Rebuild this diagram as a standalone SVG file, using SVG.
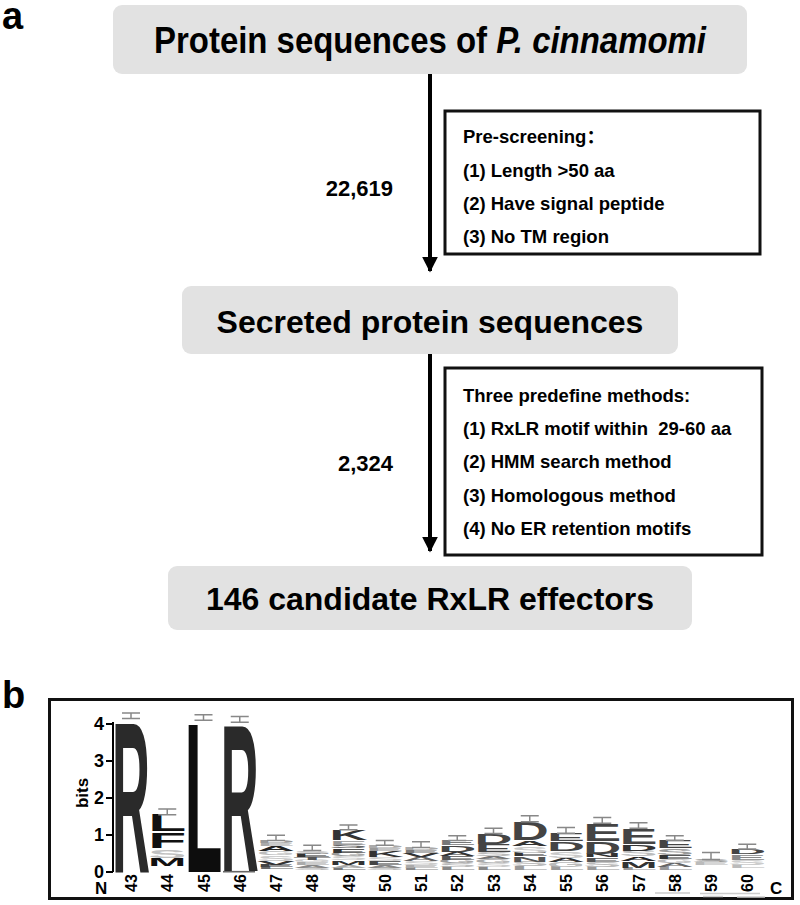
<svg xmlns="http://www.w3.org/2000/svg" width="800" height="905" viewBox="0 0 800 905">
<style>
text{font-family:"Liberation Sans",Arial,"Noto Sans CJK SC",sans-serif;font-weight:bold}
.panel{font-size:38px}
.node{fill:#e2e2e2;stroke:none}
.title{font-size:32px;text-anchor:middle}
.crit{fill:#fff;stroke:#111;stroke-width:3}
.ct{font-size:18.5px;white-space:pre}
.num{font-size:22px;text-anchor:end}
.conn{stroke:#000;stroke-width:4;fill:none}
.lg{font-size:20px}
.err{stroke:#888;stroke-width:1.5;fill:none}
.tick{font-size:18px;text-anchor:end}
.pos{font-size:16px}
.ax{stroke:#000;stroke-width:2;fill:none}
</style>
<defs>
<marker id="ah" markerWidth="4" markerHeight="4" refX="3.6" refY="2" orient="auto" markerUnits="strokeWidth" viewBox="0 0 4 4">
<path d="M0,0 L4,2 L0,4 Z" fill="#000"/>
</marker>
</defs>
<rect width="800" height="905" fill="#fff"/>

<text class="panel" x="2" y="29">a</text>
<text class="panel" x="2" y="708">b</text>

<g id="connectors">
<line class="conn" x1="430" y1="74" x2="430" y2="271" marker-end="url(#ah)"/>
<line class="conn" x1="430" y1="354" x2="430" y2="551" marker-end="url(#ah)"/>
<text class="num" x="393" y="196">22,619</text>
<text class="num" x="393" y="471">2,324</text>
</g>

<g id="node-proteins">
<rect class="node" x="113" y="5" width="634" height="69" rx="9"/>
<text font-size="37" text-anchor="middle" transform="translate(430,53) scale(0.89,1)">Protein sequences of <tspan font-style="italic">P. cinnamomi</tspan></text>
</g>

<g id="node-prescreening">
<rect class="crit" x="445" y="111" width="315" height="143"/>
<text class="ct" x="463" y="143">Pre-screening：</text>
<text class="ct" x="463" y="177">(1) Length &gt;50 aa</text>
<text class="ct" x="463" y="210">(2) Have signal peptide</text>
<text class="ct" x="463" y="243">(3) No TM region</text>
</g>

<g id="node-secreted">
<rect class="node" x="182" y="286" width="496" height="68" rx="9"/>
<text class="title" x="430" y="333">Secreted protein sequences</text>
</g>

<g id="node-methods">
<rect class="crit" x="445" y="368" width="317" height="187"/>
<text class="ct" x="463" y="402">Three predefine methods:</text>
<text class="ct" x="463" y="435">(1) RxLR motif within  29-60 aa</text>
<text class="ct" x="463" y="468">(2) HMM search method</text>
<text class="ct" x="463" y="502">(3) Homologous method</text>
<text class="ct" x="463" y="535">(4) No ER retention motifs</text>
</g>

<g id="node-candidates">
<rect class="node" x="168" y="566" width="524" height="64" rx="9"/>
<text class="title" x="430" y="610">146 candidate RxLR effectors</text>
</g>

<g id="logo">
<rect x="49.5" y="699.5" width="743" height="199" fill="none" stroke="#111" stroke-width="3"/>
<path class="ax" d="M113,722 V872 M106,872 H113 M106,835 H113 M106,798 H113 M106,761 H113 M106,724 H113"/>
<text class="tick" x="104" y="878">0</text>
<text class="tick" x="104" y="841">1</text>
<text class="tick" x="104" y="804">2</text>
<text class="tick" x="104" y="767">3</text>
<text class="tick" x="104" y="730">4</text>
<text font-size="17" text-anchor="middle" transform="translate(88,793) rotate(-90)">bits</text>
<text font-size="17" x="95" y="894">N</text>
<text font-size="17" x="770" y="894">C</text>

<g class="lg">
<text transform="translate(112,872) scale(1,10.775)" textLength="38" lengthAdjust="spacingAndGlyphs" fill="#2a2a2a">R</text>

<text transform="translate(148.25,866.45) scale(1,0.517)" textLength="38" lengthAdjust="spacingAndGlyphs" fill="#111">M</text>
<text transform="translate(148.25,858.31) scale(1,0.568)" textLength="38" lengthAdjust="spacingAndGlyphs" fill="#c0c0c0">S</text>
<text transform="translate(148.25,847.95) scale(1,1.085)" textLength="38" lengthAdjust="spacingAndGlyphs" fill="#111">F</text>
<text transform="translate(148.25,831.3) scale(1,1.163)" textLength="38" lengthAdjust="spacingAndGlyphs" fill="#111">L</text>

<text transform="translate(184.5,872) scale(1,10.671)" textLength="38" lengthAdjust="spacingAndGlyphs" fill="#0d0d0d">L</text>

<rect x="223" y="870.9" width="32" height="1.6" fill="#666"/>
<text transform="translate(220.75,870.89) scale(1,10.464)" textLength="38" lengthAdjust="spacingAndGlyphs" fill="#2a2a2a">R</text>

<text transform="translate(257,869.04) scale(1,0.155)" textLength="38" lengthAdjust="spacingAndGlyphs" fill="#666">L</text>
<text transform="translate(257,866.82) scale(1,0.155)" textLength="38" lengthAdjust="spacingAndGlyphs" fill="#444">E</text>
<text transform="translate(257,864.6) scale(1,0.258)" textLength="38" lengthAdjust="spacingAndGlyphs" fill="#333">V</text>
<text transform="translate(257,860.9) scale(1,0.388)" textLength="38" lengthAdjust="spacingAndGlyphs" fill="#c8c8c8">S</text>
<text transform="translate(257,855.35) scale(1,0.284)" textLength="38" lengthAdjust="spacingAndGlyphs" fill="#bdbdbd">G</text>
<text transform="translate(257,851.28) scale(1,0.362)" textLength="38" lengthAdjust="spacingAndGlyphs" fill="#222">A</text>
<text transform="translate(257,846.1) scale(1,0.207)" textLength="38" lengthAdjust="spacingAndGlyphs" fill="#aaa">E</text>
<text transform="translate(257,843.14) scale(1,0.181)" textLength="38" lengthAdjust="spacingAndGlyphs" fill="#999">D</text>

<text transform="translate(293.25,870.15) scale(1,0.181)" textLength="38" lengthAdjust="spacingAndGlyphs" fill="#bbb">S</text>
<text transform="translate(293.25,867.56) scale(1,0.155)" textLength="38" lengthAdjust="spacingAndGlyphs" fill="#888">A</text>
<text transform="translate(293.25,865.34) scale(1,0.207)" textLength="38" lengthAdjust="spacingAndGlyphs" fill="#aaa">E</text>
<text transform="translate(293.25,862.38) scale(1,0.181)" textLength="38" lengthAdjust="spacingAndGlyphs" fill="#ccc">G</text>
<text transform="translate(293.25,859.79) scale(1,0.207)" textLength="38" lengthAdjust="spacingAndGlyphs" fill="#555">T</text>
<text transform="translate(293.25,856.83) scale(1,0.233)" textLength="38" lengthAdjust="spacingAndGlyphs" fill="#333">E</text>
<text transform="translate(293.25,853.5) scale(1,0.207)" textLength="38" lengthAdjust="spacingAndGlyphs" fill="#bbb">S</text>

<text transform="translate(329.5,870.15) scale(1,0.181)" textLength="38" lengthAdjust="spacingAndGlyphs" fill="#777">L</text>
<text transform="translate(329.5,867.56) scale(1,0.207)" textLength="38" lengthAdjust="spacingAndGlyphs" fill="#aaa">A</text>
<text transform="translate(329.5,864.6) scale(1,0.31)" textLength="38" lengthAdjust="spacingAndGlyphs" fill="#333">M</text>
<text transform="translate(329.5,860.16) scale(1,0.258)" textLength="38" lengthAdjust="spacingAndGlyphs" fill="#ccc">S</text>
<text transform="translate(329.5,856.46) scale(1,0.258)" textLength="38" lengthAdjust="spacingAndGlyphs" fill="#999">G</text>
<text transform="translate(329.5,852.76) scale(1,0.31)" textLength="38" lengthAdjust="spacingAndGlyphs" fill="#333">E</text>
<text transform="translate(329.5,848.32) scale(1,0.233)" textLength="38" lengthAdjust="spacingAndGlyphs" fill="#666">S</text>
<text transform="translate(329.5,844.99) scale(1,0.284)" textLength="38" lengthAdjust="spacingAndGlyphs" fill="#999">E</text>
<text transform="translate(329.5,840.18) scale(1,0.723)" textLength="38" lengthAdjust="spacingAndGlyphs" fill="#333">K</text>

<text transform="translate(365.75,870.15) scale(1,0.181)" textLength="38" lengthAdjust="spacingAndGlyphs" fill="#bbb">S</text>
<text transform="translate(365.75,867.56) scale(1,0.207)" textLength="38" lengthAdjust="spacingAndGlyphs" fill="#888">A</text>
<text transform="translate(365.75,864.6) scale(1,0.258)" textLength="38" lengthAdjust="spacingAndGlyphs" fill="#444">E</text>
<text transform="translate(365.75,860.9) scale(1,0.258)" textLength="38" lengthAdjust="spacingAndGlyphs" fill="#ccc">S</text>
<text transform="translate(365.75,857.2) scale(1,0.465)" textLength="38" lengthAdjust="spacingAndGlyphs" fill="#333">K</text>
<text transform="translate(365.75,850.54) scale(1,0.207)" textLength="38" lengthAdjust="spacingAndGlyphs" fill="#999">E</text>
<text transform="translate(365.75,847.58) scale(1,0.155)" textLength="38" lengthAdjust="spacingAndGlyphs" fill="#aaa">D</text>

<text transform="translate(402,870.15) scale(1,0.181)" textLength="38" lengthAdjust="spacingAndGlyphs" fill="#888">L</text>
<text transform="translate(402,867.56) scale(1,0.207)" textLength="38" lengthAdjust="spacingAndGlyphs" fill="#aaa">E</text>
<text transform="translate(402,864.6) scale(1,0.258)" textLength="38" lengthAdjust="spacingAndGlyphs" fill="#ccc">S</text>
<text transform="translate(402,860.9) scale(1,0.258)" textLength="38" lengthAdjust="spacingAndGlyphs" fill="#666">A</text>
<text transform="translate(402,857.2) scale(1,0.31)" textLength="38" lengthAdjust="spacingAndGlyphs" fill="#333">V</text>
<text transform="translate(402,852.76) scale(1,0.207)" textLength="38" lengthAdjust="spacingAndGlyphs" fill="#777">E</text>
<text transform="translate(402,849.8) scale(1,0.155)" textLength="38" lengthAdjust="spacingAndGlyphs" fill="#aaa">D</text>

<text transform="translate(438.25,870.15) scale(1,0.233)" textLength="38" lengthAdjust="spacingAndGlyphs" fill="#888">L</text>
<text transform="translate(438.25,866.82) scale(1,0.258)" textLength="38" lengthAdjust="spacingAndGlyphs" fill="#bbb">S</text>
<text transform="translate(438.25,863.12) scale(1,0.233)" textLength="38" lengthAdjust="spacingAndGlyphs" fill="#999">G</text>
<text transform="translate(438.25,859.79) scale(1,0.284)" textLength="38" lengthAdjust="spacingAndGlyphs" fill="#555">E</text>
<text transform="translate(438.25,855.72) scale(1,0.258)" textLength="38" lengthAdjust="spacingAndGlyphs" fill="#333">A</text>
<text transform="translate(438.25,852.02) scale(1,0.465)" textLength="38" lengthAdjust="spacingAndGlyphs" fill="#444">D</text>
<text transform="translate(438.25,845.36) scale(1,0.336)" textLength="38" lengthAdjust="spacingAndGlyphs" fill="#777">E</text>

<text transform="translate(474.5,870.15) scale(1,0.233)" textLength="38" lengthAdjust="spacingAndGlyphs" fill="#888">L</text>
<text transform="translate(474.5,866.82) scale(1,0.284)" textLength="38" lengthAdjust="spacingAndGlyphs" fill="#ccc">S</text>
<text transform="translate(474.5,862.75) scale(1,0.233)" textLength="38" lengthAdjust="spacingAndGlyphs" fill="#aaa">G</text>
<text transform="translate(474.5,859.42) scale(1,0.207)" textLength="38" lengthAdjust="spacingAndGlyphs" fill="#777">A</text>
<text transform="translate(474.5,856.46) scale(1,0.31)" textLength="38" lengthAdjust="spacingAndGlyphs" fill="#bbb">S</text>
<text transform="translate(474.5,852.02) scale(1,0.517)" textLength="38" lengthAdjust="spacingAndGlyphs" fill="#444">E</text>
<text transform="translate(474.5,843.88) scale(1,0.723)" textLength="38" lengthAdjust="spacingAndGlyphs" fill="#444">D</text>

<text transform="translate(510.75,870.15) scale(1,0.258)" textLength="38" lengthAdjust="spacingAndGlyphs" fill="#999">L</text>
<text transform="translate(510.75,866.45) scale(1,0.336)" textLength="38" lengthAdjust="spacingAndGlyphs" fill="#bbb">S</text>
<text transform="translate(510.75,861.64) scale(1,0.362)" textLength="38" lengthAdjust="spacingAndGlyphs" fill="#555">N</text>
<text transform="translate(510.75,856.46) scale(1,0.258)" textLength="38" lengthAdjust="spacingAndGlyphs" fill="#333">E</text>
<text transform="translate(510.75,852.76) scale(1,0.491)" textLength="38" lengthAdjust="spacingAndGlyphs" fill="#c8c8c8">S</text>
<text transform="translate(510.75,845.73) scale(1,0.336)" textLength="38" lengthAdjust="spacingAndGlyphs" fill="#333">A</text>
<text transform="translate(510.75,840.18) scale(1,1.292)" textLength="38" lengthAdjust="spacingAndGlyphs" fill="#444">D</text>

<text transform="translate(547,870.15) scale(1,0.233)" textLength="38" lengthAdjust="spacingAndGlyphs" fill="#999">L</text>
<text transform="translate(547,866.82) scale(1,0.336)" textLength="38" lengthAdjust="spacingAndGlyphs" fill="#bbb">G</text>
<text transform="translate(547,862.01) scale(1,0.31)" textLength="38" lengthAdjust="spacingAndGlyphs" fill="#333">A</text>
<text transform="translate(547,857.57) scale(1,0.439)" textLength="38" lengthAdjust="spacingAndGlyphs" fill="#c8c8c8">S</text>
<text transform="translate(547,850.91) scale(1,0.672)" textLength="38" lengthAdjust="spacingAndGlyphs" fill="#444">D</text>
<text transform="translate(547,840.92) scale(1,0.543)" textLength="38" lengthAdjust="spacingAndGlyphs" fill="#444">E</text>

<text transform="translate(583.25,870.15) scale(1,0.233)" textLength="38" lengthAdjust="spacingAndGlyphs" fill="#999">L</text>
<text transform="translate(583.25,866.82) scale(1,0.362)" textLength="38" lengthAdjust="spacingAndGlyphs" fill="#bbb">S</text>
<text transform="translate(583.25,861.64) scale(1,0.31)" textLength="38" lengthAdjust="spacingAndGlyphs" fill="#555">E</text>
<text transform="translate(583.25,857.2) scale(1,0.258)" textLength="38" lengthAdjust="spacingAndGlyphs" fill="#333">N</text>
<text transform="translate(583.25,853.5) scale(1,0.853)" textLength="38" lengthAdjust="spacingAndGlyphs" fill="#444">D</text>
<text transform="translate(583.25,840.55) scale(1,1.214)" textLength="38" lengthAdjust="spacingAndGlyphs" fill="#444">E</text>

<text transform="translate(619.5,870.15) scale(1,0.181)" textLength="38" lengthAdjust="spacingAndGlyphs" fill="#999">L</text>
<text transform="translate(619.5,867.56) scale(1,0.465)" textLength="38" lengthAdjust="spacingAndGlyphs" fill="#333">M</text>
<text transform="translate(619.5,860.9) scale(1,0.31)" textLength="38" lengthAdjust="spacingAndGlyphs" fill="#222">A</text>
<text transform="translate(619.5,856.46) scale(1,0.413)" textLength="38" lengthAdjust="spacingAndGlyphs" fill="#bbb">S</text>
<text transform="translate(619.5,850.54) scale(1,0.465)" textLength="38" lengthAdjust="spacingAndGlyphs" fill="#333">D</text>
<text transform="translate(619.5,843.51) scale(1,1.059)" textLength="38" lengthAdjust="spacingAndGlyphs" fill="#444">E</text>

<text transform="translate(655.75,870.15) scale(1,0.233)" textLength="38" lengthAdjust="spacingAndGlyphs" fill="#999">L</text>
<text transform="translate(655.75,866.82) scale(1,0.258)" textLength="38" lengthAdjust="spacingAndGlyphs" fill="#666">A</text>
<text transform="translate(655.75,863.12) scale(1,0.31)" textLength="38" lengthAdjust="spacingAndGlyphs" fill="#bbb">G</text>
<text transform="translate(655.75,858.68) scale(1,0.284)" textLength="38" lengthAdjust="spacingAndGlyphs" fill="#333">E</text>
<text transform="translate(655.75,854.61) scale(1,0.413)" textLength="38" lengthAdjust="spacingAndGlyphs" fill="#999">S</text>
<text transform="translate(655.75,848.32) scale(1,0.568)" textLength="38" lengthAdjust="spacingAndGlyphs" fill="#444">E</text>

<text transform="translate(692,864.6) scale(1,0.181)" textLength="38" lengthAdjust="spacingAndGlyphs" fill="#bbb">E</text>
<text transform="translate(692,862.01) scale(1,0.181)" textLength="38" lengthAdjust="spacingAndGlyphs" fill="#999">S</text>

<text transform="translate(728.25,868.3) scale(1,0.258)" textLength="38" lengthAdjust="spacingAndGlyphs" fill="#bbb">L</text>
<text transform="translate(728.25,864.6) scale(1,0.336)" textLength="38" lengthAdjust="spacingAndGlyphs" fill="#ccc">S</text>
<text transform="translate(728.25,859.79) scale(1,0.388)" textLength="38" lengthAdjust="spacingAndGlyphs" fill="#888">E</text>
<text transform="translate(728.25,854.24) scale(1,0.362)" textLength="38" lengthAdjust="spacingAndGlyphs" fill="#444">D</text>
</g>

<path class="err" d="M122,712.9H140M131,712.9V718.45M122,718.45H140
M158.25,809.1H176.25M167.25,809.1V814.65M158.25,814.65H176.25
M194.5,714.75H212.5M203.5,714.75V720.3M194.5,720.3H212.5
M230.75,716.6H248.75M239.75,716.6V722.15M230.75,722.15H248.75
M267,835.37H285M276,835.37V840.55M267,840.55H285
M303.25,845.36H321.25M312.25,845.36V850.54M303.25,850.54H321.25
M339.5,825.01H357.5M348.5,825.01V829.82M339.5,829.82H357.5
M375.75,840.55H393.75M384.75,840.55V845.36M375.75,845.36H393.75
M412,841.66H430M421,841.66V847.58M412,847.58H430
M448.25,835.74H466.25M457.25,835.74V840.55M448.25,840.55H466.25
M484.5,828.34H502.5M493.5,828.34V833.52M484.5,833.52H502.5
M520.75,815.76H538.75M529.75,815.76V821.68M520.75,821.68H538.75
M557,827.6H575M566,827.6V833.15M557,833.15H575
M593.25,817.61H611.25M602.25,817.61V823.16M593.25,823.16H611.25
M629.5,822.79H647.5M638.5,822.79V828.34M629.5,828.34H647.5
M665.75,835.74H683.75M674.75,835.74V840.18M665.75,840.18H683.75
M702,852.39H720M711,852.39V859.42M702,859.42H720
M738.25,844.25H756.25M747.25,844.25V849.06M738.25,849.06H756.25"/>

<path d="M655,893H690M700,893.5H760M703,896.5H723M737,897H765" stroke="#ccc" stroke-width="1.5" fill="none"/>

<g class="pos">
<text transform="translate(137,892) rotate(-90)">43</text>
<text transform="translate(173.25,892) rotate(-90)">44</text>
<text transform="translate(209.5,892) rotate(-90)">45</text>
<text transform="translate(245.75,892) rotate(-90)">46</text>
<text transform="translate(282,892) rotate(-90)">47</text>
<text transform="translate(318.25,892) rotate(-90)">48</text>
<text transform="translate(354.5,892) rotate(-90)">49</text>
<text transform="translate(390.75,892) rotate(-90)">50</text>
<text transform="translate(427,892) rotate(-90)">51</text>
<text transform="translate(463.25,892) rotate(-90)">52</text>
<text transform="translate(499.5,892) rotate(-90)">53</text>
<text transform="translate(535.75,892) rotate(-90)">54</text>
<text transform="translate(572,892) rotate(-90)">55</text>
<text transform="translate(608.25,892) rotate(-90)">56</text>
<text transform="translate(644.5,892) rotate(-90)">57</text>
<text transform="translate(680.75,892) rotate(-90)">58</text>
<text transform="translate(717,892) rotate(-90)">59</text>
<text transform="translate(753.25,892) rotate(-90)">60</text>
</g>
</g>
</svg>
